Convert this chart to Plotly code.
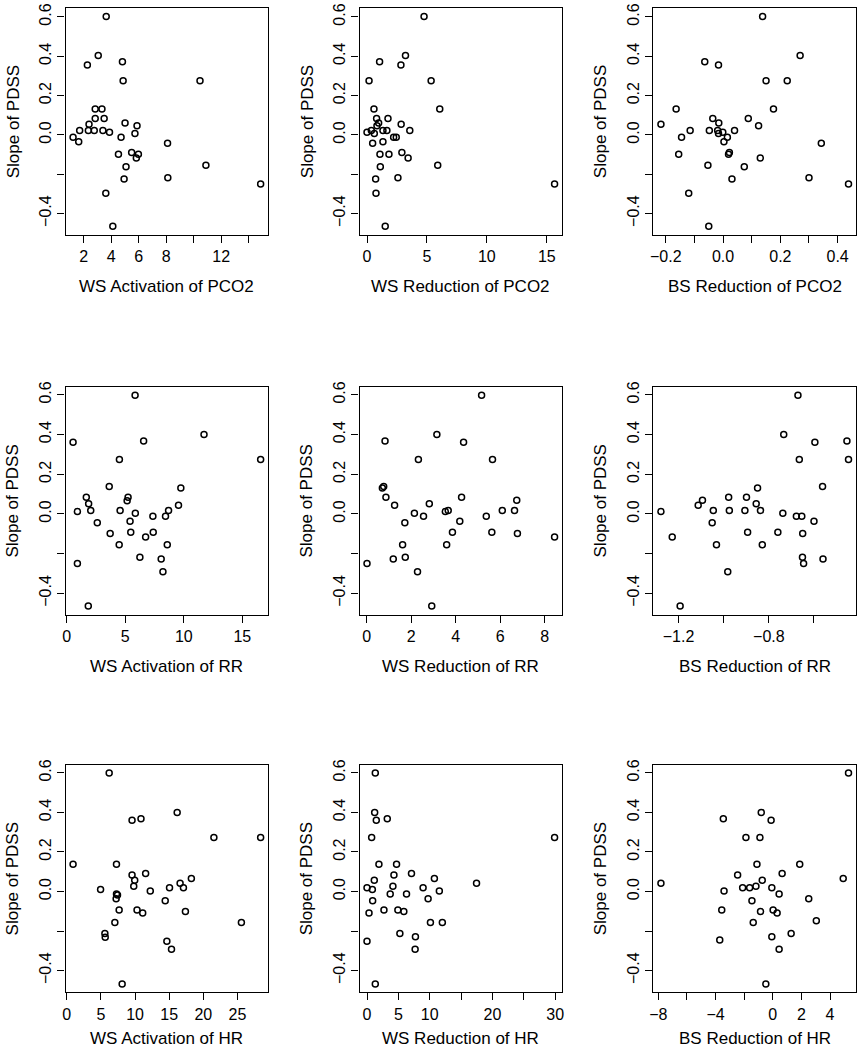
import plotly.graph_objects as go

# ---------------- data ----------------
ws_act_pco2_x = [3.64, 3.06, 2.27, 4.82, 4.87, 10.46, 2.84, 3.33, 2.84, 3.49, 2.39, 5.01, 5.88, 1.71, 2.34, 2.77, 3.40,
                 3.88, 5.73, 1.23, 1.64, 4.72, 8.10, 4.53, 5.49, 5.98, 5.83, 5.08, 10.89, 4.94, 8.12, 14.87, 3.61, 4.12]
ws_act_pco2_y = [0.603, 0.404, 0.356, 0.372, 0.275, 0.275, 0.132, 0.132, 0.084, 0.084, 0.054, 0.061, 0.046, 0.022, 0.022,
                 0.022, 0.022, 0.014, 0.007, -0.012, -0.035, -0.012, -0.042, -0.098, -0.090, -0.098, -0.117, -0.162,
                 -0.154, -0.225, -0.218, -0.250, -0.297, -0.465]

ws_red_pco2_x = [4.76, 3.21, 1.05, 2.83, 0.17, 5.35, 6.07, 0.58, 0.80, 1.75, 0.97, 2.85, 0.83, 0.00, 0.36, 1.33, 1.66,
                 3.57, 0.61, 2.22, 2.44, 0.47, 1.33, 1.08, 1.83, 2.91, 3.43, 1.11, 5.90, 0.72, 2.58, 15.65, 0.75, 1.52]
ws_red_pco2_y = [0.603, 0.404, 0.372, 0.356, 0.275, 0.275, 0.132, 0.132, 0.084, 0.084, 0.061, 0.054, 0.046, 0.014, 0.022,
                 0.022, 0.022, 0.022, 0.007, -0.012, -0.012, -0.042, -0.035, -0.098, -0.098, -0.090, -0.117, -0.162,
                 -0.154, -0.225, -0.218, -0.250, -0.297, -0.465]

bs_red_pco2_x = [0.138, 0.269, -0.064, -0.016, 0.150, 0.224, -0.164, 0.176, -0.036, 0.088, -0.217, -0.015, 0.124, -0.115,
                 -0.048, -0.019, 0.040, -0.001, -0.016, -0.145, 0.015, 0.003, 0.343, -0.155, 0.022, 0.019, 0.130, -0.053,
                 0.074, 0.031, 0.300, 0.438, -0.120, -0.050]
bs_red_pco2_y = [0.603, 0.404, 0.372, 0.356, 0.275, 0.275, 0.132, 0.132, 0.084, 0.084, 0.054, 0.061, 0.046, 0.022, 0.022,
                 0.022, 0.022, 0.014, 0.007, -0.012, -0.012, -0.035, -0.042, -0.098, -0.090, -0.098, -0.117, -0.154,
                 -0.162, -0.225, -0.218, -0.250, -0.297, -0.465]

ws_act_rr_x = [5.84, 11.73, 0.54, 6.57, 4.50, 16.57, 3.63, 9.75, 1.67, 5.24, 1.87, 5.16, 9.55, 0.91, 2.05, 4.56, 8.70,
               5.86, 7.36, 8.44, 2.61, 5.41, 3.71, 5.47, 7.39, 6.74, 4.48, 8.59, 6.25, 8.07, 0.91, 8.22, 1.84]
ws_act_rr_y = [0.598, 0.400, 0.361, 0.368, 0.274, 0.274, 0.138, 0.131, 0.084, 0.084, 0.052, 0.066, 0.044, 0.012, 0.018,
               0.018, 0.018, 0.003, -0.012, -0.012, -0.044, -0.037, -0.099, -0.092, -0.092, -0.116, -0.155, -0.155,
               -0.218, -0.227, -0.250, -0.291, -0.464]

ws_red_rr_x = [5.16, 3.15, 0.82, 4.35, 2.32, 5.65, 0.70, 0.76, 0.86, 4.26, 6.74, 2.81, 1.25, 2.14, 3.53, 3.66, 6.09,
               6.64, 2.55, 5.37, 1.71, 4.18, 3.85, 5.62, 6.77, 8.44, 1.61, 3.59, 1.73, 1.19, 0.01, 2.28, 2.92]
ws_red_rr_y = [0.598, 0.400, 0.368, 0.361, 0.274, 0.274, 0.131, 0.138, 0.084, 0.084, 0.069, 0.052, 0.044, 0.003, 0.012,
               0.018, 0.018, 0.018, -0.012, -0.012, -0.044, -0.037, -0.092, -0.092, -0.099, -0.116, -0.155, -0.155,
               -0.218, -0.227, -0.250, -0.291, -0.464]

bs_red_rr_x = [-0.671, -0.734, -0.596, -0.454, -0.665, -0.447, -0.562, -0.850, -1.094, -0.978, -0.899, -1.113, -0.856,
               -1.278, -1.046, -0.975, -0.906, -0.837, -0.738, -0.678, -0.654, -1.051, -0.600, -1.228, -0.894, -0.760,
               -0.650, -1.032, -0.829, -0.651, -0.646, -0.560, -0.982, -1.193]
bs_red_rr_y = [0.598, 0.400, 0.361, 0.368, 0.274, 0.274, 0.138, 0.131, 0.069, 0.084, 0.084, 0.044, 0.052, 0.012, 0.018,
               0.018, 0.018, 0.018, 0.003, -0.012, -0.012, -0.044, -0.037, -0.116, -0.092, -0.092, -0.099, -0.155,
               -0.155, -0.218, -0.250, -0.227, -0.291, -0.464]

ws_act_hr_x = [6.21, 16.17, 9.56, 10.87, 21.55, 28.40, 0.92, 7.28, 11.55, 9.56, 18.25, 9.95, 16.60, 9.81, 15.05, 17.09,
               4.95, 12.23, 7.28, 7.43, 7.23, 14.42, 7.67, 10.29, 11.12, 17.38, 7.04, 25.58, 5.58, 5.63, 14.66, 15.34,
               8.11]
ws_act_hr_y = [0.599, 0.400, 0.361, 0.368, 0.273, 0.273, 0.138, 0.138, 0.091, 0.083, 0.066, 0.057, 0.042, 0.027, 0.019,
               0.019, 0.010, 0.003, -0.012, -0.017, -0.037, -0.046, -0.093, -0.093, -0.108, -0.101, -0.157, -0.157,
               -0.212, -0.231, -0.251, -0.292, -0.467]

ws_red_hr_x = [1.32, 1.22, 1.48, 3.23, 0.74, 29.90, 1.90, 4.71, 7.09, 4.29, 10.74, 1.16, 17.46, 4.13, 0.00, 8.94, 0.85,
               11.53, 3.70, 6.30, 0.90, 9.74, 2.70, 4.92, 5.87, 0.32, 10.11, 12.01, 5.24, 7.72, 0.00, 7.67, 1.32]
ws_red_hr_y = [0.599, 0.400, 0.361, 0.368, 0.273, 0.273, 0.138, 0.138, 0.091, 0.083, 0.066, 0.057, 0.042, 0.027, 0.019,
               0.019, 0.010, 0.003, -0.012, -0.012, -0.046, -0.037, -0.093, -0.093, -0.101, -0.108, -0.157, -0.157,
               -0.212, -0.229, -0.251, -0.292, -0.467]

bs_red_hr_x = [5.29, -0.81, -3.46, -0.12, -1.88, -0.90, -1.11, 1.88, 0.65, -2.46, 4.92, -0.74, -7.82, -1.18, -2.11,
               -1.62, -0.07, -3.41, 0.44, -1.46, 2.51, -3.57, -0.86, 0.02, 0.30, -1.37, 3.04, 1.28, -0.07, -3.71, 0.44,
               -0.49]
bs_red_hr_y = [0.599, 0.400, 0.368, 0.361, 0.273, 0.273, 0.138, 0.138, 0.091, 0.083, 0.066, 0.057, 0.042, 0.027, 0.019,
               0.019, 0.019, 0.003, -0.013, -0.046, -0.037, -0.093, -0.101, -0.093, -0.108, -0.157, -0.148, -0.212,
               -0.229, -0.245, -0.292, -0.467]

x_titles = ["WS Activation of PCO2", "WS Reduction of PCO2", "BS Reduction of PCO2",
            "WS Activation of RR", "WS Reduction of RR", "BS Reduction of RR",
            "WS Activation of HR", "WS Reduction of HR", "BS Reduction of HR"]
y_title = "Slope of PDSS"

x_tickvals = [
    [2, 4, 6, 8, 10, 12, 14], [0, 5, 10, 15], [-0.2, -0.1, 0.0, 0.1, 0.2, 0.3, 0.4],
    [0, 5, 10, 15], [0, 2, 4, 6, 8], [-1.2, -1.0, -0.8, -0.6],
    [0, 5, 10, 15, 20, 25], [0, 5, 10, 15, 20, 25, 30], [-8, -6, -4, -2, 0, 2, 4],
]
x_ticktext = [
    ["2", "4", "6", "8", "", "12", ""], ["0", "5", "10", "15"], ["\u22120.2", "", "0.0", "", "0.2", "", "0.4"],
    ["0", "5", "10", "15"], ["0", "2", "4", "6", "8"], ["\u22121.2", "", "\u22120.8", ""],
    ["0", "5", "10", "15", "20", "25"], ["0", "5", "10", "", "20", "", "30"],
    ["\u22128", "", "\u22124", "", "0", "2", "4"],
]
y_tickvals = [-0.4, -0.2, 0.0, 0.2, 0.4, 0.6]
y_ticktext = ["\u22120.4", "", "0.0", "0.2", "0.4", "0.6"]

panels_x = [ws_act_pco2_x, ws_red_pco2_x, bs_red_pco2_x, ws_act_rr_x, ws_red_rr_x, bs_red_rr_x,
            ws_act_hr_x, ws_red_hr_x, bs_red_hr_x]
panels_y = [ws_act_pco2_y, ws_red_pco2_y, bs_red_pco2_y, ws_act_rr_y, ws_red_rr_y, bs_red_rr_y,
            ws_act_hr_y, ws_red_hr_y, bs_red_hr_y]

# ---------------- layout ----------------
W, H = 860, 1050
col_px = [(62, 266), (358, 562), (654, 858)]
row_px = [(2, 230), (383, 612), (763, 992)]
FONT = "Liberation Sans, Arial, Helvetica, sans-serif"


def rng(v):
    lo, hi = min(v), max(v)
    pad = 0.04 * (hi - lo)
    return [lo - pad, hi + pad]


fig = go.Figure()
annotations = []
layout = dict(width=W, height=H, margin=dict(l=0, r=0, t=0, b=0),
              paper_bgcolor="white", plot_bgcolor="white", showlegend=False,
              font=dict(family=FONT, size=16, color="black"))

for i in range(9):
    r, c = divmod(i, 3)
    xs = "" if i == 0 else str(i + 1)
    fig.add_trace(go.Scatter(
        x=panels_x[i], y=panels_y[i], mode="markers",
        xaxis="x" + xs, yaxis="y" + xs,
        marker=dict(symbol="circle-open", size=6, color="black", line=dict(width=1.5, color="black")),
    ))
    x0, x1 = col_px[c]
    y0, y1 = row_px[r]
    common = dict(showline=True, linecolor="black", linewidth=1.3, mirror=True, ticks="outside",
                  ticklen=7, tickwidth=1.2, tickcolor="black", showgrid=False, zeroline=False,
                  tickfont=dict(family=FONT, size=16, color="black"))
    layout["xaxis" + xs] = dict(domain=[x0 / W, x1 / W], anchor="y" + xs, range=rng(panels_x[i]),
                                tickmode="array", tickvals=x_tickvals[i], ticktext=x_ticktext[i], **common)
    layout["yaxis" + xs] = dict(domain=[1 - y1 / H, 1 - y0 / H], anchor="x" + xs, range=rng(panels_y[i]),
                                tickmode="array", tickvals=y_tickvals, ticktext=y_ticktext, tickangle=-90,
                                **common)
    if r < 2:
        xt = dict(y=1 - (y1 + 52) / H, yanchor="middle")
    else:
        xt = dict(y=0.0, yanchor="bottom")
    annotations.append(dict(text=x_titles[i], xref="paper", yref="paper", showarrow=False,
                            x=(x0 + x1) / 2 / W, xanchor="center",
                            font=dict(family=FONT, size=17, color="black"), **xt))
    annotations.append(dict(text=y_title, xref="paper", yref="paper", showarrow=False, textangle=-90,
                            x=(x0 - 53) / W, y=1 - (y0 + y1) / 2 / H, xanchor="center", yanchor="middle",
                            font=dict(family=FONT, size=17, color="black")))

layout["annotations"] = annotations
fig.update_layout(**layout)
fig.write_html("out.html", config={"displayModeBar": False},
               post_script="document.body.style.margin='0px';document.body.style.overflow='hidden';")
